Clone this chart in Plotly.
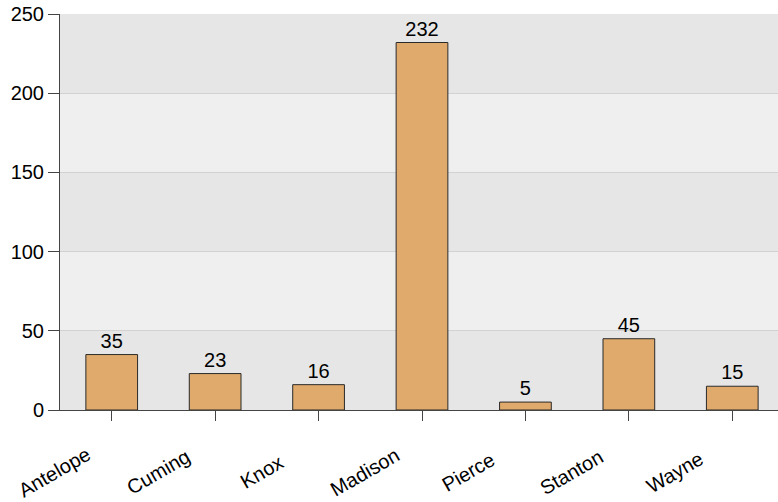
import plotly.graph_objects as go

counties = ["Antelope", "Cuming", "Knox", "Madison", "Pierce", "Stanton", "Wayne"]
counts = [35, 23, 16, 232, 5, 45, 15]
y_ticks = [0, 50, 100, 150, 200, 250]

FONT = "Liberation Sans, Arial, sans-serif"

fig = go.Figure()
fig.add_trace(go.Bar(
    x=counties, y=counts,
    width=0.5,
    marker=dict(color="#dfaa6b", line=dict(color="#2a2a2a", width=1)),
    text=[str(v) for v in counts], textposition="outside",
    textfont=dict(family=FONT, size=20, color="#000000"),
    cliponaxis=False,
))

shapes = []
for i in range(len(y_ticks) - 1):
    shapes.append(dict(
        type="rect", xref="paper", yref="y", x0=0, x1=1,
        y0=y_ticks[i], y1=y_ticks[i + 1],
        fillcolor="#e6e6e6" if i % 2 == 0 else "#efefef",
        line=dict(width=0), layer="below",
    ))

# rotated category labels, centred below each tick
annotations = [
    dict(x=c, xref="x", y=0, yref="paper", text=c, showarrow=False,
         textangle=-30, xanchor="center", yanchor="middle",
         xshift=-57, yshift=-62,
         font=dict(family=FONT, size=20, color="#000000"))
    for c in counties
]

fig.update_layout(
    width=784, height=502,
    margin=dict(l=60, r=0, t=14, b=92),
    paper_bgcolor="#ffffff", plot_bgcolor="#ffffff",
    showlegend=False, shapes=shapes, annotations=annotations,
    font=dict(family=FONT, size=20, color="#000000"),
    bargap=0.5,
)
fig.update_xaxes(
    automargin=False,
    range=[-0.5, len(counties) - 0.5],
    showline=True, linecolor="#444444", linewidth=1,
    ticks="outside", ticklen=10, tickcolor="#444444",
    showticklabels=False,
    showgrid=False,
)
fig.update_yaxes(
    automargin=False,
    range=[0, 250], tickvals=y_ticks,
    showline=True, linecolor="#444444", linewidth=1,
    ticks="outside", ticklen=11, tickcolor="#444444",
    tickfont=dict(family=FONT, size=20),
    showgrid=True, gridcolor="#d2d2d2", gridwidth=1,
    zeroline=False, layer="below traces",
)

fig.write_html(
    "out.html",
    config={"displayModeBar": False},
    post_script="document.body.style.margin='0';document.body.style.overflow='hidden';",
)
